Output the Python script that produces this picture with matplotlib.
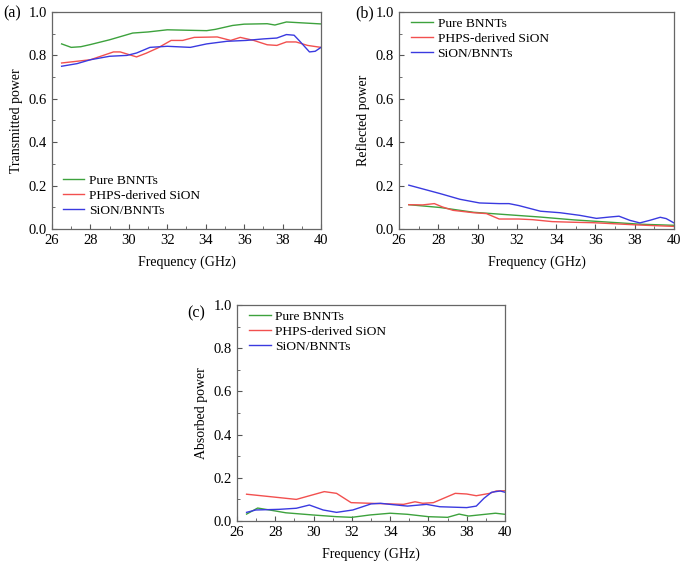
import matplotlib
matplotlib.use("Agg")
import matplotlib.pyplot as plt
from matplotlib.ticker import MultipleLocator, FormatStrFormatter

plt.rcParams["font.family"] = ["Liberation Serif", "DejaVu Serif"]

labels = ["Pure BNNTs", "PHPS-derived SiON", "SiON/BNNTs"]
colors = ["#3da23d", "#f2504f", "#3a3ae0"]

# (a) transmitted power
t_bnnt_x = [26.5, 27.0, 27.5, 28.0, 29.0, 30.2, 31.0, 32.0, 33.0, 34.05, 34.5, 35.4, 36.0, 37.2, 37.6, 38.2, 39.0, 40.0]
t_bnnt_y = [0.853, 0.837, 0.840, 0.850, 0.872, 0.903, 0.908, 0.918, 0.916, 0.914, 0.920, 0.938, 0.944, 0.946, 0.940, 0.954, 0.950, 0.945]
t_sion_x = [26.5, 27.3, 28.0, 29.2, 29.55, 30.4, 30.9, 31.5, 32.2, 32.8, 33.4, 34.6, 35.3, 35.8, 36.5, 37.2, 37.7, 38.2, 38.7, 39.3, 40.0]
t_sion_y = [0.765, 0.773, 0.780, 0.816, 0.816, 0.793, 0.810, 0.834, 0.869, 0.869, 0.883, 0.885, 0.869, 0.883, 0.869, 0.849, 0.846, 0.862, 0.862, 0.846, 0.837]
t_comp_x = [26.5, 27.3, 28.0, 29.0, 29.9, 30.4, 31.1, 32.0, 33.2, 34.05, 35.1, 36.1, 37.0, 37.7, 38.2, 38.6, 38.9, 39.4, 39.7, 40.0]
t_comp_y = [0.750, 0.762, 0.780, 0.796, 0.800, 0.811, 0.837, 0.842, 0.837, 0.853, 0.865, 0.869, 0.876, 0.880, 0.896, 0.893, 0.865, 0.816, 0.819, 0.837]

# (b) reflected power
r_bnnt_x = [26.5, 28.1, 29.8, 31.5, 33.2, 34.9, 36.6, 38.3, 40.0]
r_bnnt_y = [0.112, 0.099, 0.077, 0.066, 0.055, 0.042, 0.032, 0.022, 0.017]
r_sion_x = [26.5, 27.2, 27.8, 28.2, 28.75, 29.8, 30.45, 31.1, 32.1, 32.8, 33.8, 34.9, 35.9, 37.2, 38.3, 40.0]
r_sion_y = [0.112, 0.111, 0.117, 0.102, 0.086, 0.075, 0.071, 0.046, 0.046, 0.043, 0.034, 0.031, 0.029, 0.023, 0.018, 0.012]
r_comp_x = [26.5, 28.1, 29.1, 30.1, 31.1, 31.6, 32.1, 33.2, 34.2, 35.2, 36.05, 36.7, 37.2, 37.75, 38.26, 38.77, 39.3, 39.6, 40.0]
r_comp_y = [0.202, 0.163, 0.137, 0.120, 0.117, 0.117, 0.108, 0.082, 0.075, 0.063, 0.049, 0.055, 0.059, 0.040, 0.028, 0.040, 0.054, 0.048, 0.028]

# (c) absorbed power
a_bnnt_x = [26.5, 27.08, 27.7, 28.55, 29.95, 31.2, 32.0, 32.95, 34.0, 34.9, 36.0, 37.0, 37.6, 38.1, 39.5, 40.0]
a_bnnt_y = [0.032, 0.060, 0.051, 0.038, 0.028, 0.020, 0.017, 0.028, 0.036, 0.031, 0.020, 0.017, 0.032, 0.023, 0.036, 0.031]
a_sion_x = [26.5, 27.7, 29.1, 30.56, 31.2, 31.96, 32.95, 34.7, 35.3, 35.7, 36.26, 37.4, 38.0, 38.5, 39.2, 39.54, 40.0]
a_sion_y = [0.124, 0.113, 0.100, 0.136, 0.128, 0.085, 0.082, 0.077, 0.089, 0.082, 0.085, 0.128, 0.125, 0.117, 0.128, 0.139, 0.140]
a_comp_x = [26.5, 26.98, 28.2, 29.1, 29.78, 30.5, 31.2, 32.05, 33.0, 33.5, 34.0, 34.9, 35.9, 36.6, 38.0, 38.5, 38.9, 39.3, 39.75, 40.0]
a_comp_y = [0.040, 0.051, 0.054, 0.059, 0.074, 0.051, 0.040, 0.051, 0.079, 0.082, 0.077, 0.069, 0.077, 0.066, 0.062, 0.069, 0.105, 0.133, 0.139, 0.133]

panels = [
    ("(a)", "Transmitted power", [(t_bnnt_x, t_bnnt_y), (t_sion_x, t_sion_y), (t_comp_x, t_comp_y)]),
    ("(b)", "Reflected power", [(r_bnnt_x, r_bnnt_y), (r_sion_x, r_sion_y), (r_comp_x, r_comp_y)]),
    ("(c)", "Absorbed power", [(a_bnnt_x, a_bnnt_y), (a_sion_x, a_sion_y), (a_comp_x, a_comp_y)]),
]

W, H = 685, 566
boxes = [(52, 12, 321, 229), (399, 12, 674, 229), (237, 305, 505, 521)]
tag_pos = [(12, 13), (365, 13), (196, 313)]          # pixel centres of panel tags
legend_anchor = [("lower left", (0.02, 0.03)), ("upper left", (0.025, 1.0)), ("upper left", (0.025, 1.0))]

fig = plt.figure(figsize=(W / 100, H / 100), dpi=100)

for (tag, ylabel, series), (x0, y0, x1, y1), (tx, ty), (loc, anc) in zip(panels, boxes, tag_pos, legend_anchor):
    ax = fig.add_axes([x0 / W, 1 - y1 / H, (x1 - x0) / W, (y1 - y0) / H])
    for (xs, ys), lab, c in zip(series, labels, colors):
        ax.plot(xs, ys, color=c, lw=1.0, label=lab)
    ax.set_xlim(26, 40)
    ax.set_ylim(0, 1.0)
    ax.xaxis.set_major_locator(MultipleLocator(2))
    ax.xaxis.set_minor_locator(MultipleLocator(1))
    ax.yaxis.set_major_locator(MultipleLocator(0.2))
    ax.yaxis.set_minor_locator(MultipleLocator(0.1))
    ax.yaxis.set_major_formatter(FormatStrFormatter("%.1f"))
    ax.tick_params(which="both", direction="in", top=False, right=False,
                   labelsize=10.5, color="#555555")
    ax.tick_params(which="major", length=3.5)
    ax.tick_params(which="minor", length=2)
    for s in ax.spines.values():
        s.set_color("#666666")
        s.set_linewidth(0.9)
    ax.set_xlabel("Frequency (GHz)", fontsize=10, labelpad=6)
    ax.set_ylabel(ylabel, fontsize=10, labelpad=4)
    fig.text(tx / W, 1 - ty / H, tag, fontsize=11.5, va="center", ha="center")
    ax.legend(loc=loc, bbox_to_anchor=anc, frameon=False, fontsize=9.7, handlelength=1.6,
              handletextpad=0.35, labelspacing=0.2, borderaxespad=0.0)

fig.savefig("out.png", dpi=100)
